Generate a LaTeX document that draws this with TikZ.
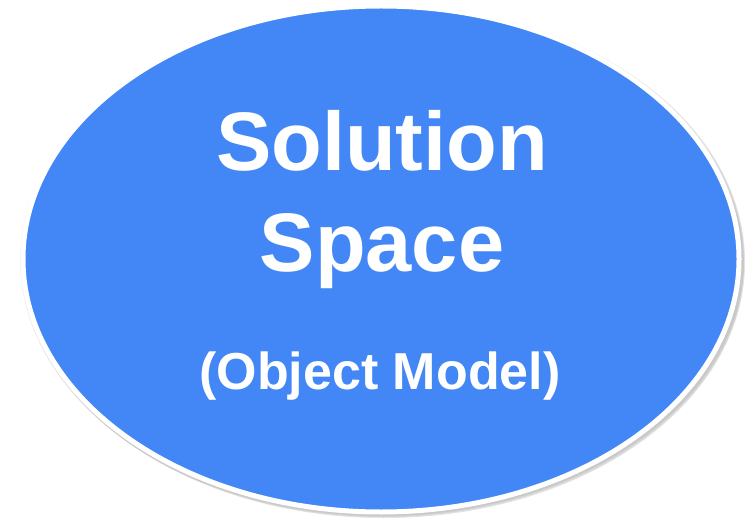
\documentclass[tikz,border=0pt]{standalone}
\usepackage{fontspec}
\setmainfont{Liberation Sans}
\definecolor{spaceblue}{HTML}{4287F5}

\begin{document}
\begin{tikzpicture}[x=1bp, y=-1bp]
\tikzset{ inner sep=0pt, outer sep=0pt,
  big/.style={anchor=base, white, font=\fontsize{83bp}{90bp}\selectfont\bfseries},
  small/.style={anchor=base, white, font=\fontsize{52bp}{60bp}\selectfont\bfseries},
  halo/.style={fill=black, opacity=0.06} }

\useasboundingbox (0,0) rectangle (751,525);

%\draw [lightgray, dashed](0,0) grid [step=50] (751,525);

% soft shadow, a few layers
\fill [halo] (382,260) ellipse [x radius=362, y radius=256];
\fill [halo] (383,261) ellipse [x radius=362, y radius=256];
\fill [halo] (384,263) ellipse [x radius=361, y radius=255];
\fill [halo] (384,264) ellipse [x radius=360, y radius=254];

\draw [line width=5bp, white, fill=spaceblue]
      (381,259) ellipse [x radius=358, y radius=253];

\node [big]   (S1) at (382,171) {Solution};
\node [big]   (S2) at (382,272) {Space};
\node [small] (OM) at (380,389) {(Object Model)};

\end{tikzpicture}
\end{document}
